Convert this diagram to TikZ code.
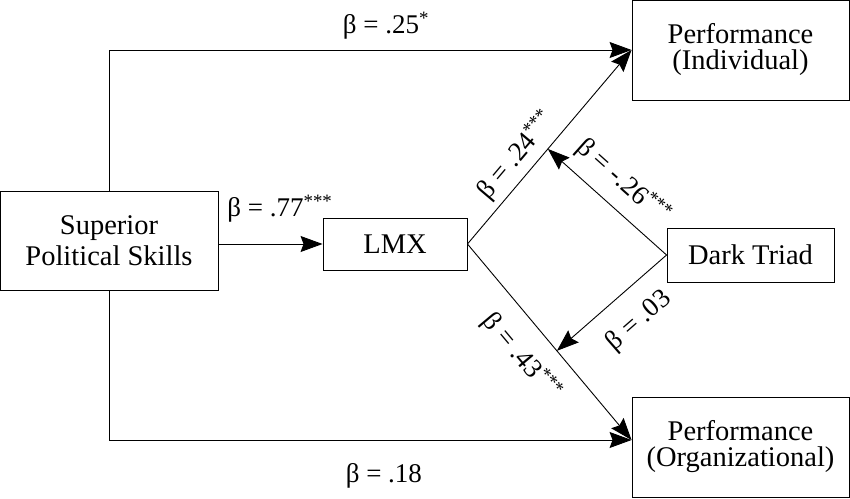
\documentclass[tikz,border=0pt]{standalone}
\usepackage{fontspec}
\setmainfont{Liberation Serif}
\usetikzlibrary{arrows.meta}
\tikzset{
  varbox/.style = {rectangle, draw=black, line width=0.9pt, align=center, inner sep=0pt, font=\fontsize{28.5}{31}\selectfont},
  effect/.style = {-{Stealth[length=22pt, width=16pt, inset=3pt]}, line width=0.9pt},
  beta/.style = {font=\fontsize{27}{30}\selectfont, inner sep=0pt},
}

\begin{document}
\begin{tikzpicture}[x=1pt, y=1pt]
\useasboundingbox (0,0) rectangle (850,498);
\node [varbox, minimum width=218pt, minimum height=99pt] (sps) at (109,257.5) {Superior\\Political Skills};
\node [varbox, minimum width=144pt, minimum height=52pt] (lmx) at (395,254) {LMX};
\node [varbox, minimum width=217pt, minimum height=100pt] (pind) at (740.5,448) {Performance\\[-5pt](Individual)};
\node [varbox, minimum width=167pt, minimum height=54pt] (dt) at (750.5,243) {Dark Triad};
\node [varbox, minimum width=217pt, minimum height=100pt] (porg) at (740.5,51) {Performance\\[-5pt](Organizational)};
\coordinate (oin) at ([yshift=7pt]porg.west);

% direct paths
\draw [effect] (sps.north) |- node [beta, pos=0.765, above=10pt] {β = .25\textsuperscript{*}} (pind.west);
\draw [effect] (sps.south) |- node [beta, pos=0.763, below=23pt] {β = .18} (oin);
\draw [effect] (sps.east |- lmx.west) -- node [beta, pos=0.59, above=21pt] {β = .77\textsuperscript{***}} (lmx.west);

% mediated paths
\draw [effect] (lmx.east) -- node [beta, sloped, pos=0.39, above=6pt] {β = .24\textsuperscript{***}} coordinate [pos=0.49] (m1) (pind.west);
\draw [effect] (lmx.east) -- node [beta, sloped, pos=0.475, below=17pt] {β = .43\textsuperscript{***}} coordinate [pos=0.545] (m2) (oin);

% moderation
\draw [effect] (dt.west) -- node [beta, sloped, pos=0.51, above=12pt] {β = -.26\textsuperscript{***}} (m1);
\draw [effect] (dt.west) -- node [beta, sloped, pos=0.44, below=19pt] {β = .03} (m2);
\end{tikzpicture}
\end{document}
